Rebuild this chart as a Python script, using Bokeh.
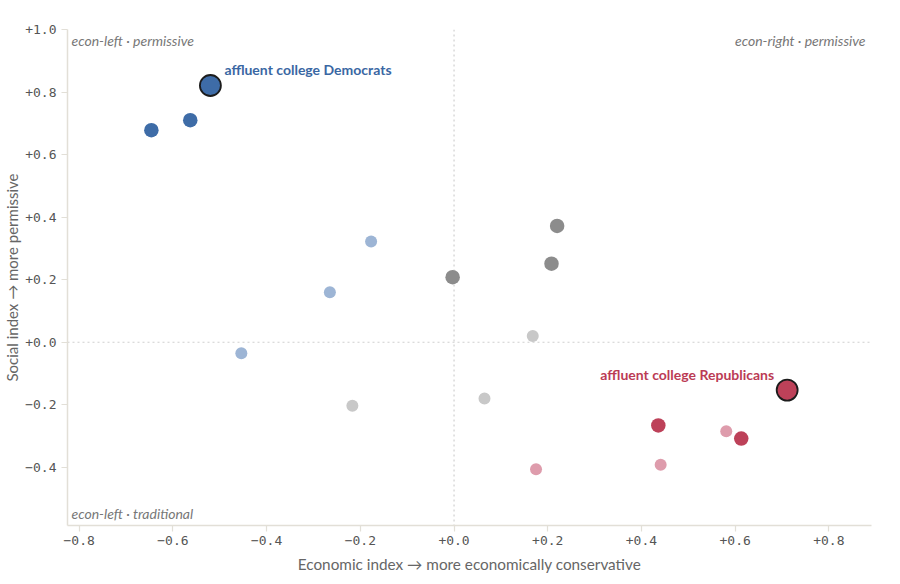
from bokeh.plotting import figure
from bokeh.models import Range1d, FixedTicker, CustomJSTickFormatter, Span, Label, ColumnDataSource
from bokeh.embed import file_html
from bokeh.resources import INLINE

# ---- data ----
econ = [-0.520, -0.563, -0.646, -0.177, -0.265, -0.454,
        -0.003, 0.220, 0.208, 0.168, -0.217, 0.065,
        0.711, 0.436, 0.613, 0.581, 0.441, 0.175]
social = [0.821, 0.710, 0.678, 0.322, 0.160, -0.035,
          0.208, 0.372, 0.251, 0.020, -0.203, -0.180,
          -0.153, -0.266, -0.308, -0.285, -0.392, -0.406]
group = ["D", "D", "D", "D-lean", "D-lean", "D-lean",
         "I", "I", "I", "I-lean", "I-lean", "I-lean",
         "R", "R", "R", "R-lean", "R-lean", "R-lean"]
highlight = [True, False, False, False, False, False,
             False, False, False, False, False, False,
             True, False, False, False, False, False]
highlight_labels = {"D": "affluent college Democrats", "R": "affluent college Republicans"}

x_ticks = [-0.8, -0.6, -0.4, -0.2, 0.0, 0.2, 0.4, 0.6, 0.8]
y_ticks = [-0.4, -0.2, 0.0, 0.2, 0.4, 0.6, 0.8, 1.0]
quadrant_labels = ["econ-left · permissive", "econ-right · permissive", "econ-left · traditional"]
x_title = "Economic index → more economically conservative"
y_title = "Social index → more permissive"

X_START, X_END = -0.825, 0.891
Y_START, Y_END = -0.586, 1.0

# ---- styles ----
colors = {"D": "#3e6ca7", "D-lean": "#9db5d5", "I": "#8c8c8c", "I-lean": "#c8c8c8",
          "R": "#bd4159", "R-lean": "#de9cac"}
sizes = {"D": 14.5, "D-lean": 12, "I": 14.5, "I-lean": 12, "R": 14.5, "R-lean": 12}
label_colors = {"D": "#3a67a3", "R": "#bb3b55"}
FONT = "Lato"
MONO = "DejaVu Sans Mono"

p = figure(width=900, height=584, x_range=Range1d(X_START, X_END), y_range=Range1d(Y_START, Y_END),
           output_backend="svg", toolbar_location=None,
           min_border_left=66, min_border_right=29, min_border_top=29, min_border_bottom=59)
p.outline_line_color = None
p.background_fill_color = "white"
p.border_fill_color = "white"
p.xgrid.visible = False
p.ygrid.visible = False

fmt = CustomJSTickFormatter(code="""
const a = Math.abs(tick).toFixed(1);
return (tick < -1e-9 ? "\u2212" : "+") + a;
""")

for ax, ticks in ((p.xaxis[0], x_ticks), (p.yaxis[0], y_ticks)):
    ax.ticker = FixedTicker(ticks=ticks)
    ax.formatter = fmt
    ax.minor_tick_line_color = None
    ax.major_tick_in = 0
    ax.major_tick_out = 6
    ax.axis_line_color = "#e2dfd7"
    ax.axis_line_width = 1.5
    ax.major_tick_line_color = "#e2dfd7"
    ax.major_tick_line_width = 1.2
    ax.major_label_text_font = MONO
    ax.major_label_text_font_size = "13px"
    ax.major_label_text_color = "#555555"
    ax.axis_label_text_font = FONT
    ax.axis_label_text_font_style = "normal"
    ax.axis_label_text_color = "#666666"

p.xaxis.axis_label = x_title
p.yaxis.axis_label = y_title
p.xaxis.axis_label_text_font_size = "15.3px"
p.yaxis.axis_label_text_font_size = "15px"
p.xaxis.major_label_standoff = 4
p.xaxis.axis_label_standoff = 7
p.yaxis.major_label_standoff = 5
p.yaxis.axis_label_standoff = 1

# zero lines
for dim in ("width", "height"):
    p.add_layout(Span(location=0, dimension=dim, line_color="#cfcfcf", line_width=1.2, line_dash="2 3",
                      level="underlay"))

# quadrant labels
qstyle = dict(text_font=FONT, text_font_style="italic", text_font_size="14px", text_color="#777777",
              text_baseline="middle")
p.add_layout(Label(x=X_START, y=Y_END, x_offset=4, y_offset=-11, text=quadrant_labels[0], text_align="left", **qstyle))
p.add_layout(Label(x=X_END, y=Y_END, x_offset=-6, y_offset=-11, text=quadrant_labels[1], text_align="right", **qstyle))
p.add_layout(Label(x=X_START, y=Y_START, x_offset=4, y_offset=12, text=quadrant_labels[2], text_align="left", **qstyle))

# points: light first, then dark, then highlighted
order = ["D-lean", "I-lean", "R-lean", "D", "I", "R"]
for g in order:
    idx = [i for i in range(len(econ)) if group[i] == g and not highlight[i]]
    src = ColumnDataSource(dict(x=[econ[i] for i in idx], y=[social[i] for i in idx]))
    p.scatter("x", "y", source=src, size=sizes[g], fill_color=colors[g], line_color=None)

for i in range(len(econ)):
    if highlight[i]:
        g = group[i]
        src = ColumnDataSource(dict(x=[econ[i]], y=[social[i]]))
        p.scatter("x", "y", source=src, size=21, fill_color=colors[g], line_color="#1c1c1c", line_width=1.8)
        left = econ[i] < 0
        p.add_layout(Label(x=econ[i], y=social[i], x_offset=(14 if left else -13), y_offset=16,
                           text=highlight_labels[g], text_align=("left" if left else "right"),
                           text_baseline="middle", text_font=FONT, text_font_style="bold",
                           text_font_size="14px", text_color=label_colors[g]))

open("out.html", "w").write(file_html(p, INLINE))
